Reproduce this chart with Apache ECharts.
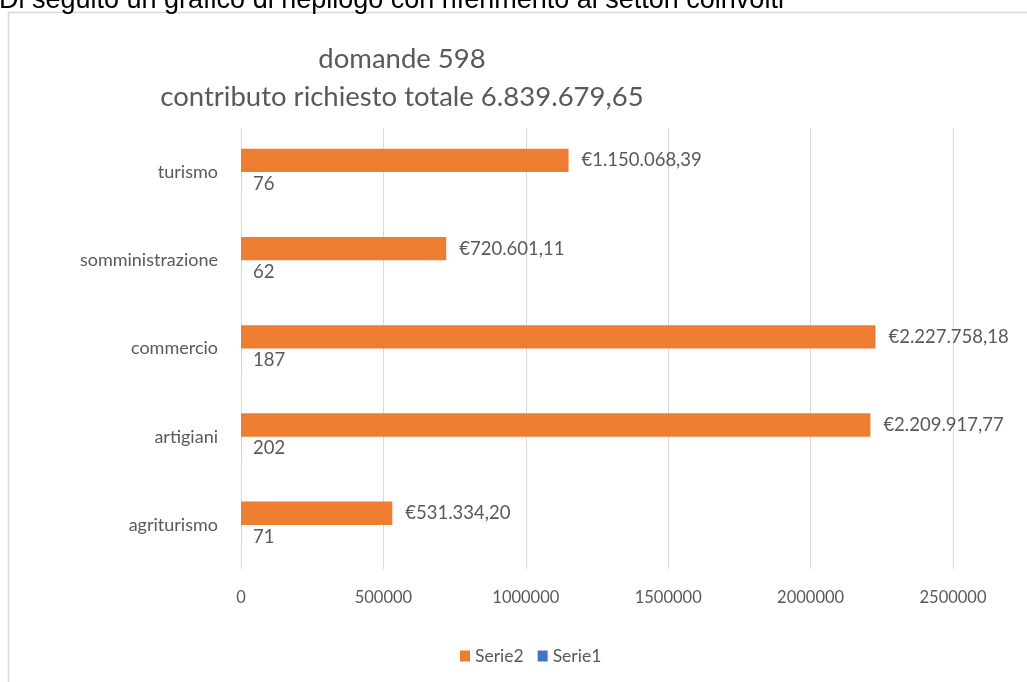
<!DOCTYPE html>
<html>
<head>
<meta charset="utf-8">
<title>domande 598</title>
<script src="https://cdn.jsdelivr.net/npm/echarts@6/dist/echarts.min.js"></script>
<style>
  html, body { margin: 0; padding: 0; background: #fff; }
  #chart { width: 1027px; height: 682px; }
</style>
</head>
<body>
<div id="chart"></div>
<script>
'use strict';

const categories = ['agriturismo', 'artigiani', 'commercio', 'somministrazione', 'turismo'];
const serie1 = [71, 202, 187, 62, 76];
const serie2 = [531334.20, 2209917.77, 2227758.18, 720601.11, 1150068.39];
const xTicks = [0, 500000, 1000000, 1500000, 2000000, 2500000];

const font = 'Lato';
const grey = '#595959';

// formato italiano: €1.150.068,39
function euro(v) {
  const parts = v.toFixed(2).split('.');
  const int = parts[0].replace(/\B(?=(\d{3})+(?!\d))/g, '.');
  return '€' + int + ',' + parts[1];
}

const chart = echarts.init(document.getElementById('chart'));
chart.setOption({
  animation: false,
  graphic: [
    {
      type: 'rect',
      shape: { x: 8.5, y: 12.5, width: 1100, height: 700 },
      style: { fill: 'none', stroke: '#d9d9d9', lineWidth: 1.5 },
      silent: true
    },
    {
      type: 'text',
      left: -1, top: -13,
      style: {
        text: 'Di seguito un grafico di riepilogo con riferimento ai settori coinvolti',
        font: '27px "Liberation Sans", Arial, sans-serif',
        fill: '#000'
      },
      z: 10
    }
  ],
  title: {
    text: 'domande 598\ncontributo richiesto totale 6.839.679,65',
    left: 397,
    textAlign: 'center',
    top: 35,
    textStyle: {
      fontFamily: font,
      fontSize: 27.5,
      fontWeight: 'normal',
      color: grey,
      lineHeight: 38
    }
  },
  legend: {
    data: ['Serie2', 'Serie1'],
    bottom: 12,
    left: 455,
    icon: 'rect',
    itemWidth: 10,
    itemHeight: 11,
    itemGap: 14,
    textStyle: { fontFamily: font, fontSize: 17.5, color: grey }
  },
  grid: { left: 241, right: 74, top: 128, bottom: 113, containLabel: false },
  xAxis: {
    type: 'value',
    min: xTicks[0],
    max: xTicks[xTicks.length - 1],
    interval: xTicks[1] - xTicks[0],
    axisLine: { show: false },
    axisTick: { show: false },
    axisLabel: { fontFamily: font, fontSize: 16.5, color: grey, margin: 20, formatter: v => String(v) },
    splitLine: { lineStyle: { color: '#d9d9d9', width: 1 } }
  },
  yAxis: {
    type: 'category',
    data: categories,
    axisLine: { show: false },
    axisTick: { show: false },
    axisLabel: { fontFamily: font, fontSize: 18, color: grey, margin: 23 }
  },
  series: [
    {
      name: 'Serie2',
      type: 'bar',
      data: serie2,
      barGap: '0%',
      barCategoryGap: '47%',
      itemStyle: { color: '#ED7D31' },
      label: {
        show: true,
        position: 'right',
        distance: 13,
        formatter: p => euro(p.value),
        fontFamily: font,
        fontSize: 18.5,
        color: grey
      }
    },
    {
      name: 'Serie1',
      type: 'bar',
      data: serie1,
      barGap: '0%',
      barCategoryGap: '47%',
      itemStyle: { color: '#4472C4' },
      label: {
        show: true,
        position: 'right',
        distance: 12,
        fontFamily: font,
        fontSize: 18.5,
        color: grey
      }
    }
  ]
});
</script>
</body>
</html>
